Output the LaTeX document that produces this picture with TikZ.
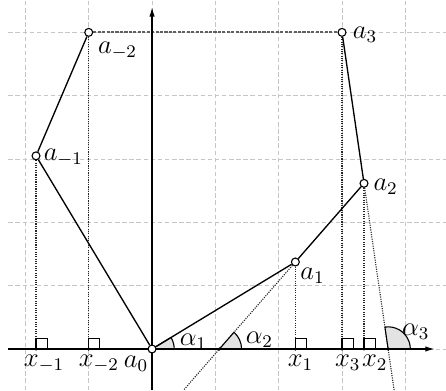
\documentclass[tikz,border=0pt]{standalone}
\usetikzlibrary{calc,arrows.meta,backgrounds}
\begin{document}
\begin{tikzpicture}[x=1cm,y=1cm,
  gridline/.style={gray!45, line width=0.4pt, dash pattern=on 2pt off 1.2pt},
  topline/.style={gray!75!black, line width=0.8pt, dash pattern=on 1.4pt off 0.6pt},
  proj/.style={line width=0.5pt, black!85, dash pattern=on 0.5pt off 0.55pt},
  side/.style={line width=0.6pt},
  axis/.style={line width=0.6pt, -{Latex[length=1.5mm,width=0.85mm]}},
  pt/.style={circle, draw, fill=white, inner sep=0pt, minimum size=0.125cm, line width=0.5pt},
  foot/.style={circle, fill=black, inner sep=0pt, minimum size=0.055cm},
  rsq/.style={line width=0.5pt},
  wedge/.style={fill=gray!22, draw, line width=0.5pt},
  lbl/.style={anchor=base west, inner sep=0pt, font=\large}]
\useasboundingbox (-2.401,-0.648) rectangle (4.642,5.511);
% points
\node[pt] (a0) at (0,0) {};
\node[pt] (a1) at (2.263,1.374) {};
\node[pt] (a2) at (3.347,2.616) {};
\node[pt] (a3) at (3,5) {};
\node[pt] (am1) at (-1.832,3.05) {};
\node[pt] (am2) at (-1,5) {};
% feet
\node[foot] (f1) at (a1 |- a0) {};
\node[foot] (f2) at (a2 |- a0) {};
\node[foot] (f3) at (a3 |- a0) {};
\node[foot] (fm1) at (am1 |- a0) {};
\node[foot] (fm2) at (am2 |- a0) {};
\node[foot] (v2) at (1.064,0) {};
\node[foot] (v3) at (3.728,0) {};
\coordinate (e2) at ($(a1.center)!1.47!(v2.center)$);
\coordinate (e3) at ($(a2.center)!1.248!(v3.center)$);
\coordinate (xs) at (-2.27,0);
\coordinate (xe) at (4.465,0);
\coordinate (ys) at (0,-0.648);
\coordinate (ye) at (0,5.40);
% labels
\node[lbl] (la0) at (-0.453,-0.289) {$a_0$};
\node[lbl] (la1) at (2.335,1.095) {$a_1$};
\node[lbl] (la2) at (3.49,2.51) {$a_2$};
\node[lbl] (la3) at (3.163,4.906) {$a_3$};
\node[lbl] (lam1) at (-1.716,2.976) {$a_{-1}$};
\node[lbl] (lam2) at (-0.86,4.66) {$a_{-2}$};
\node[lbl] (lx1) at (2.137,-0.27) {$x_1$};
\node[lbl] (lx2) at (3.31,-0.27) {$x_2$};
\node[lbl] (lx3) at (2.884,-0.27) {$x_3$};
\node[lbl] (lxm1) at (-2.03,-0.27) {$x_{-1}$};
\node[lbl] (lxm2) at (-1.164,-0.27) {$x_{-2}$};
\node[lbl] (lal1) at (0.431,0.063) {$\alpha_1$};
\node[lbl] (lal2) at (1.473,0.09) {$\alpha_2$};
\node[lbl] (lal3) at (3.943,0.221) {$\alpha_3$};
\begin{pgfonlayer}{background}
\draw[gridline] (-2.27,-0.648) grid (4.642,5.511);
\draw[topline] (am2) -- (a3);
% projections
\draw[proj] (a1) -- (f1);
\draw[proj] (a2) -- (f2);
\draw[proj] (a3) -- (f3);
\draw[proj] (am1) -- (fm1);
\draw[proj] (am2) -- (fm2);
\draw[proj] (a1) -- (e2);
\draw[proj] (a2) -- (e3);
% wedges
\filldraw[wedge] (a0.center) -- ++(0:0.35) arc[start angle=0,end angle=31.3,radius=0.35] -- cycle;
\filldraw[wedge] (v2.center) -- ++(0:0.35) arc[start angle=0,end angle=48.9,radius=0.35] -- cycle;
\filldraw[wedge] (v3.center) -- ++(0:0.35) arc[start angle=0,end angle=98.3,radius=0.35] -- cycle;
% polygon
\draw[side] (a3) -- (a2) -- (a1) -- (a0) -- (am1) -- (am2);
% axes
\draw[axis] (xs) -- (xe);
\draw[axis] (ys) -- (ye);
% right angle marks
\foreach \f in {f1,f2,f3,fm1,fm2}
  \draw[rsq] (\f.center) rectangle ++(0.175,0.165);
\end{pgfonlayer}
\end{tikzpicture}
\end{document}
